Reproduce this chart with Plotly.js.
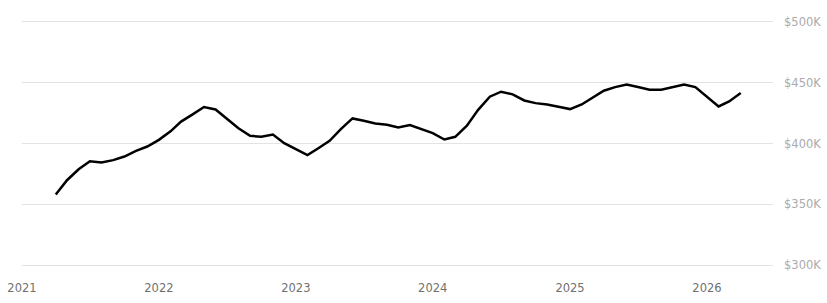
<!DOCTYPE html>
<html>
<head>
<meta charset="utf-8">
<script src="https://cdn.plot.ly/plotly-3.0.1.min.js"></script>
<style>html,body{margin:0;padding:0;background:#fff;}#chart{width:827px;height:303px;}</style>
</head>
<body>
<div id="chart"></div>
<script>
// Monthly values (thousands of USD), April 2021 .. April 2026
const startYear = 2021, startMonth = 4;
const values = [
  358, 369.8, 378.8, 385.4, 384.3, 386.3, 389.3, 394, 397.5,
  403, 410, 418, 424, 430, 428, 420.6, 412.6, 406.3, 405.5, 407.4, 400.3, 395.3,
  390.4, 395.9, 402.2, 411.8, 420.6, 418.7, 416.5, 415.4, 413.2, 415.1, 411.8, 408.5,
  403.3, 405.5, 414.6, 427.7, 438.5, 442.6, 440.4, 435.4, 433.2, 432.1, 430.2, 428.3,
  432.1, 437.4, 443.4, 446.4, 448.4, 446.4, 444.2, 444.2, 446.4, 448.4, 446.4, 438.5,
  430.5, 434.6, 441.5
];
const dates = values.map((v, i) => {
  const m0 = startMonth - 1 + i;
  const y = startYear + Math.floor(m0 / 12);
  const m = (m0 % 12) + 1;
  return y + '-' + String(m).padStart(2, '0') + '-01';
});
const yValues = values.map(v => v * 1000);
const yearTicks = ['2021', '2022', '2023', '2024', '2025', '2026'];
const yTickVals = [300000, 350000, 400000, 450000, 500000];
const yTickText = ['$300K', '$350K', '$400K', '$450K', '$500K'];

const trace = {
  x: dates, y: yValues, type: 'scatter', mode: 'lines',
  line: {color: '#000000', width: 2.5},
  hoverinfo: 'skip'
};
const layout = {
  width: 827, height: 303,
  margin: {l: 22, r: 54, t: 19, b: 35},
  paper_bgcolor: '#ffffff', plot_bgcolor: '#ffffff',
  showlegend: false,
  font: {family: 'DejaVu Sans, sans-serif', size: 11.5},
  xaxis: {
    type: 'date',
    range: ['2021-01-01', '2026-06-26'],
    tickvals: yearTicks.map(y => y + '-01-01'),
    ticktext: yearTicks,
    showgrid: false, zeroline: false, showline: false, ticks: '',
    tickfont: {color: '#707070', size: 11.5, family: 'DejaVu Sans'},
    ticklabelstandoff: 11
  },
  yaxis: {
    side: 'right',
    range: [297600, 502400],
    tickvals: yTickVals, ticktext: yTickText,
    showgrid: true, gridcolor: '#e3e3e3', gridwidth: 1,
    zeroline: false, showline: false, ticks: '',
    tickfont: {color: '#ababab', size: 11.5, family: 'DejaVu Sans'},
    ticklabelstandoff: 10
  }
};
Plotly.newPlot('chart', [trace], layout, {staticPlot: true, displayModeBar: false});
</script>
</body>
</html>
